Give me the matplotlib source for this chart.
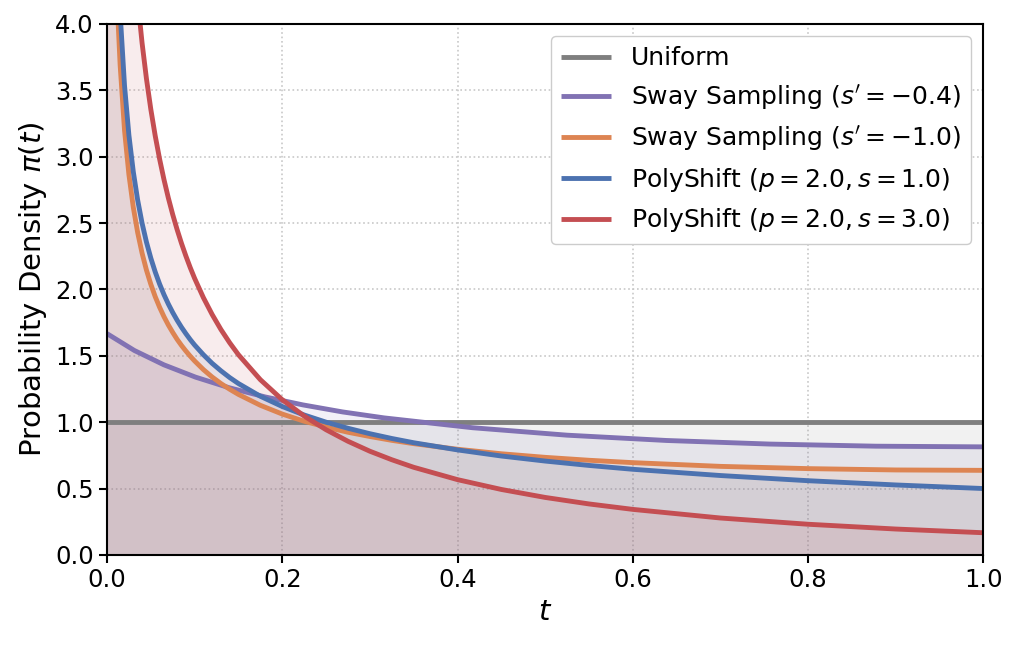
import matplotlib
matplotlib.use("Agg")
import matplotlib.pyplot as plt

# ---- data ----
uniform_t = [0.0, 1.0]
uniform_d = [1.0, 1.0]

sway04_t = [0.0, 0.0312, 0.0649, 0.1011, 0.1396, 0.1805, 0.2236, 0.2689, 0.3164,
            0.4172, 0.5249, 0.6384, 0.7564, 0.8774, 1.0]
sway04_d = [1.667, 1.540, 1.432, 1.339, 1.259, 1.190, 1.130, 1.077, 1.032,
            0.958, 0.902, 0.862, 0.835, 0.819, 0.814]

sway10_t = [0.005, 0.01, 0.0125, 0.015, 0.02, 0.025, 0.03, 0.035, 0.04, 0.045, 0.05,
            0.055, 0.06, 0.065, 0.07, 0.075, 0.08, 0.085, 0.09, 0.095, 0.10, 0.11,
            0.12, 0.13, 0.14, 0.15, 0.175, 0.2, 0.225, 0.25, 0.275, 0.3, 0.325,
            0.35, 0.4, 0.45, 0.5, 0.55, 0.6, 0.7, 0.8, 0.9, 1.0]
sway10_d = [6.374, 4.513, 4.039, 3.689, 3.199, 2.865, 2.619, 2.428, 2.274, 2.146, 2.039,
            1.946, 1.866, 1.795, 1.732, 1.676, 1.624, 1.578, 1.536, 1.497, 1.461, 1.396,
            1.340, 1.291, 1.248, 1.209, 1.127, 1.061, 1.007, 0.963, 0.924, 0.892, 0.863,
            0.838, 0.796, 0.762, 0.735, 0.713, 0.695, 0.667, 0.650, 0.640, 0.637]

poly1_t = [0.005, 0.01, 0.0125, 0.015, 0.02, 0.025, 0.03, 0.035, 0.04, 0.045, 0.05,
           0.055, 0.06, 0.065, 0.07, 0.075, 0.08, 0.085, 0.09, 0.095, 0.10, 0.11,
           0.12, 0.13, 0.14, 0.15, 0.175, 0.2, 0.225, 0.25, 0.275, 0.3, 0.325,
           0.35, 0.4, 0.45, 0.5, 0.55, 0.6, 0.7, 0.8, 0.9, 1.0]
poly1_d = [7.071, 5.000, 4.472, 4.082, 3.536, 3.162, 2.887, 2.673, 2.500, 2.357, 2.236,
           2.132, 2.041, 1.961, 1.890, 1.826, 1.768, 1.715, 1.667, 1.622, 1.581, 1.508,
           1.443, 1.387, 1.336, 1.291, 1.195, 1.118, 1.054, 1.000, 0.954, 0.913, 0.877,
           0.845, 0.791, 0.745, 0.707, 0.674, 0.645, 0.598, 0.559, 0.527, 0.500]

poly3_t = [0.01, 0.015, 0.02, 0.025, 0.03, 0.035, 0.04, 0.045, 0.05,
           0.055, 0.06, 0.065, 0.07, 0.075, 0.08, 0.085, 0.09, 0.095, 0.10, 0.11,
           0.12, 0.13, 0.14, 0.15, 0.175, 0.2, 0.225, 0.25, 0.275, 0.3, 0.325,
           0.35, 0.4, 0.45, 0.5, 0.55, 0.6, 0.7, 0.8, 0.9, 1.0]
poly3_d = [8.410, 6.765, 5.770, 5.091, 4.580, 4.182, 3.858, 3.588, 3.357,
           3.158, 2.983, 2.828, 2.689, 2.564, 2.451, 2.347, 2.252, 2.164, 2.083, 1.938,
           1.811, 1.698, 1.598, 1.508, 1.320, 1.169, 1.046, 0.943, 0.856, 0.781, 0.717,
           0.660, 0.567, 0.493, 0.433, 0.384, 0.343, 0.278, 0.231, 0.195, 0.167]

labels = ["Uniform",
          r"Sway Sampling ($s'=-0.4$)",
          r"Sway Sampling ($s'=-1.0$)",
          r"PolyShift ($p=2.0, s=1.0$)",
          r"PolyShift ($p=2.0, s=3.0$)"]
colors = ["#7f7f7f", "#8172B3", "#DD8452", "#4C72B0", "#C44E52"]

series = [(uniform_t, uniform_d), (sway04_t, sway04_d), (sway10_t, sway10_d),
          (poly1_t, poly1_d), (poly3_t, poly3_d)]

fig = plt.figure(figsize=(10.19, 6.46), dpi=100)
ax = fig.add_axes([0.105, 0.141, 0.860, 0.822])

for (t, d), lab, c in zip(series, labels, colors):
    tt = list(t)
    dd = list(d)
    if tt[0] > 0:
        tt = [0.0] + tt
        dd = [dd[0] * 3] + dd
    ax.fill_between(tt, 0, dd, color=c, alpha=0.1, linewidth=0)
    ax.plot(t, d, color=c, lw=3.5, label=lab, solid_capstyle="butt")

ax.set_xlim(0, 1)
ax.set_ylim(0, 4)
ax.set_xticks([0.0, 0.2, 0.4, 0.6, 0.8, 1.0])
ax.set_yticks([0.0, 0.5, 1.0, 1.5, 2.0, 2.5, 3.0, 3.5, 4.0])
ax.tick_params(labelsize=17.5, width=1.5, length=6, direction="out")
ax.grid(True, linestyle=":", color="#c8c8c8", linewidth=1.2)
ax.set_axisbelow(True)
for sp in ax.spines.values():
    sp.set_linewidth(1.5)
    sp.set_color("black")
ax.set_xlabel(r"$t$", fontsize=21)
ax.set_ylabel(r"Probability Density $\pi(t)$", fontsize=21)
leg = ax.legend(loc="upper right", fontsize=18, frameon=True, fancybox=True,
                edgecolor="#cccccc", framealpha=1.0)
fig.savefig("out.png", dpi=100)
